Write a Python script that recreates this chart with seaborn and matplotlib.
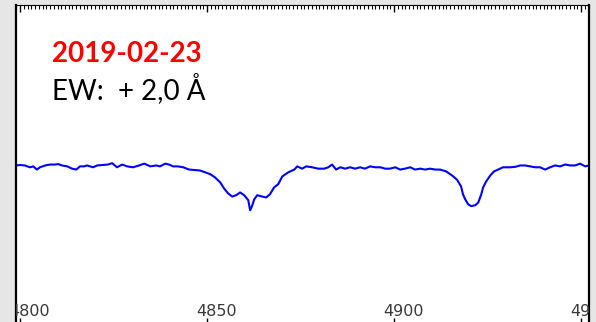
import matplotlib
matplotlib.use("Agg")
import matplotlib.pyplot as plt
from matplotlib.ticker import MultipleLocator, FixedLocator
import numpy as np
import pandas as pd
import seaborn as sns

# Spectrum around H-beta and He I 4922 (wavelength in Angstrom, normalised flux)
wavelength = [
    4798.9, 4800.0, 4801.3, 4801.9, 4802.7, 4803.5, 4804.5, 4805.3, 4806.7, 4808.0,
    4809.4, 4810.2, 4811.2, 4812.6, 4813.9, 4815.0, 4816.0, 4817.1, 4817.9, 4819.5,
    4820.6, 4821.9, 4823.5, 4824.6, 4825.9, 4827.3, 4828.6, 4830.2, 4831.8, 4833.2,
    4834.8, 4836.4, 4837.4, 4838.8, 4839.8, 4840.9, 4842.2, 4843.6, 4845.2, 4846.8,
    4848.1, 4849.5, 4850.8, 4852.1, 4853.5, 4854.5, 4855.6, 4856.7, 4857.8, 4858.8,
    4859.9, 4861.0, 4861.5, 4862.0, 4862.6, 4863.4, 4864.7, 4865.8, 4866.8, 4867.9,
    4869.0, 4870.1, 4871.7, 4873.3, 4874.1, 4875.4, 4876.5, 4878.1, 4879.7, 4881.3,
    4882.4, 4883.4, 4884.5, 4885.6, 4886.9, 4888.2, 4889.6, 4890.9, 4892.2, 4893.6,
    4894.9, 4896.3, 4897.6, 4898.9, 4900.3, 4901.6, 4902.9, 4904.3, 4905.6, 4907.0,
    4908.3, 4909.6, 4911.0, 4912.3, 4913.9, 4915.5, 4916.8, 4917.9, 4918.4, 4919.0,
    4919.8, 4920.6, 4921.7, 4922.5, 4923.3, 4923.8, 4924.6, 4925.7, 4926.7, 4927.8,
    4929.1, 4931.0, 4932.4, 4933.7, 4935.0, 4936.4, 4937.7, 4939.0, 4940.4, 4941.7,
    4943.0, 4944.4, 4945.7, 4947.1, 4948.4, 4949.7, 4951.1, 4952.1,
]
flux = [
    0.999, 1.000, 0.999, 0.997, 0.995, 0.997, 0.990, 0.995, 0.999, 1.001,
    1.001, 1.002, 0.999, 0.997, 0.992, 0.990, 0.997, 0.997, 0.999, 0.995,
    0.999, 1.000, 1.001, 1.004, 0.995, 1.001, 0.997, 0.995, 0.999, 1.003,
    0.997, 0.999, 0.997, 1.003, 1.001, 0.997, 0.997, 0.995, 0.990, 0.989,
    0.988, 0.984, 0.980, 0.973, 0.962, 0.949, 0.938, 0.931, 0.934, 0.940,
    0.934, 0.923, 0.901, 0.910, 0.925, 0.934, 0.931, 0.929, 0.936, 0.951,
    0.958, 0.975, 0.984, 0.990, 0.997, 0.992, 0.997, 0.995, 0.992, 0.992,
    0.995, 1.001, 0.990, 0.995, 0.992, 0.995, 0.992, 0.995, 0.992, 0.997,
    0.995, 0.995, 0.992, 0.992, 0.995, 0.990, 0.992, 0.995, 0.990, 0.992,
    0.990, 0.992, 0.990, 0.990, 0.986, 0.977, 0.968, 0.953, 0.936, 0.925,
    0.914, 0.910, 0.912, 0.918, 0.936, 0.951, 0.964, 0.977, 0.986, 0.990,
    0.995, 0.995, 0.996, 0.999, 0.999, 0.997, 0.995, 0.995, 0.990, 0.995,
    0.999, 0.997, 1.001, 0.999, 0.999, 1.003, 0.997, 0.999,
]
tick_values = [4800, 4850, 4900, 4950]
obs_date = "2019-02-23"
ew_label = "EW:  + 2,0 Å"

df = pd.DataFrame({"wavelength": wavelength, "flux": flux})

sns.set_style("white")
plt.rcParams["font.family"] = ["DejaVu Sans"]

fig = plt.figure(figsize=(5.96, 3.22), dpi=100, facecolor="#e6e6e6")
ax = fig.add_axes([16 / 596, -3 / 322, 573 / 596, 320 / 322])
ax.set_facecolor("white")

sns.lineplot(data=df, x="wavelength", y="flux", ax=ax, color="#0000ff",
             linewidth=1.5, estimator=None, sort=False)

ax.set_xlim(4798.9, 4952.1)
ax.set_ylim(0.65, 1.35)
ax.set_xlabel("")
ax.set_ylabel("")
ax.set_yticks([])

for side in ["left", "right"]:
    ax.spines[side].set_color("black")
    ax.spines[side].set_linewidth(1.6)
ax.spines["top"].set_color("black")
ax.spines["top"].set_linewidth(0.8)
ax.spines["bottom"].set_color("black")

ax.xaxis.set_major_locator(FixedLocator(tick_values))
ax.xaxis.set_minor_locator(MultipleLocator(1))
ax.tick_params(axis="x", which="both", direction="in", top=True, bottom=True,
               labelbottom=False, color="black")
ax.tick_params(axis="x", which="major", length=5, width=1)
ax.tick_params(axis="x", which="minor", length=3, width=0.8, bottom=False)

# wavelength labels sit inside the frame, just above the lower edge
for v in tick_values:
    ax.text(v + 2.4, 0.028, f"{v}", transform=ax.get_xaxis_transform(),
            ha="center", va="baseline", fontsize=11.5, color="#3a3a3a",
            family="DejaVu Sans", clip_on=True)

ax.text(0.063, 0.822, obs_date, transform=ax.transAxes, ha="left",
        va="baseline", fontsize=20, fontweight="bold", color="#ff0000",
        family="Lato")
ax.text(0.063, 0.706, ew_label, transform=ax.transAxes, ha="left",
        va="baseline", fontsize=20, color="black", family="Lato")

fig.savefig("out.png", dpi=100, facecolor=fig.get_facecolor())
